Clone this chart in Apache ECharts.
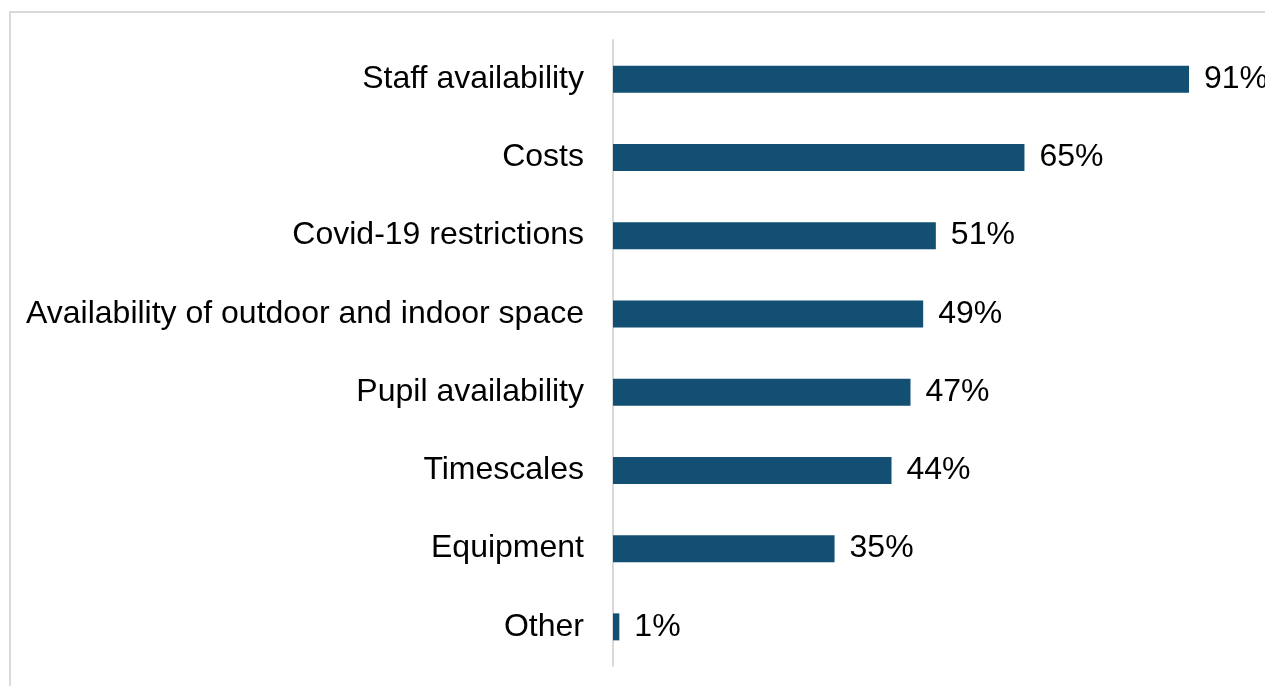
<!DOCTYPE html>
<html>
<head>
<meta charset="utf-8">
<script src="https://cdn.jsdelivr.net/npm/echarts@6/dist/echarts.min.js"></script>
<style>
  html, body { margin: 0; padding: 0; background: #fff; }
  #chart { width: 1265px; height: 686px; }
</style>
</head>
<body>
<div id="chart"></div>
<script>
// Reasons reported, top to bottom
const categories = [
  'Staff availability',
  'Costs',
  'Covid-19 restrictions',
  'Availability of outdoor and indoor space',
  'Pupil availability',
  'Timescales',
  'Equipment',
  'Other'
];
// Share of respondents (%)
const values = [91, 65, 51, 49, 47, 44, 35, 1];

const chart = echarts.init(document.getElementById('chart'));
const font = '"Liberation Sans", Arial, sans-serif';

chart.setOption({
  animation: false,
  graphic: [{
    type: 'rect',
    silent: true,
    shape: { x: 10, y: 12, width: 1400, height: 800 },
    style: { fill: 'none', stroke: '#d9d9d9', lineWidth: 2 }
  }],
  grid: { left: 613, right: 19, top: 40, bottom: 20, containLabel: false },
  xAxis: {
    type: 'value',
    min: 0,
    max: 100,
    show: false
  },
  yAxis: {
    type: 'category',
    inverse: true,
    data: categories,
    axisLine: { show: true, lineStyle: { color: '#d9d9d9', width: 2 } },
    axisTick: { show: false },
    axisLabel: {
      margin: 29,
      fontFamily: font,
      fontSize: 32,
      color: '#000'
    }
  },
  series: [{
    type: 'bar',
    data: values,
    barWidth: 27,
    itemStyle: { color: '#124f73' },
    label: {
      show: true,
      position: 'right',
      distance: 15,
      formatter: '{c}%',
      fontFamily: font,
      fontSize: 32,
      color: '#000'
    }
  }]
});
</script>
</body>
</html>
